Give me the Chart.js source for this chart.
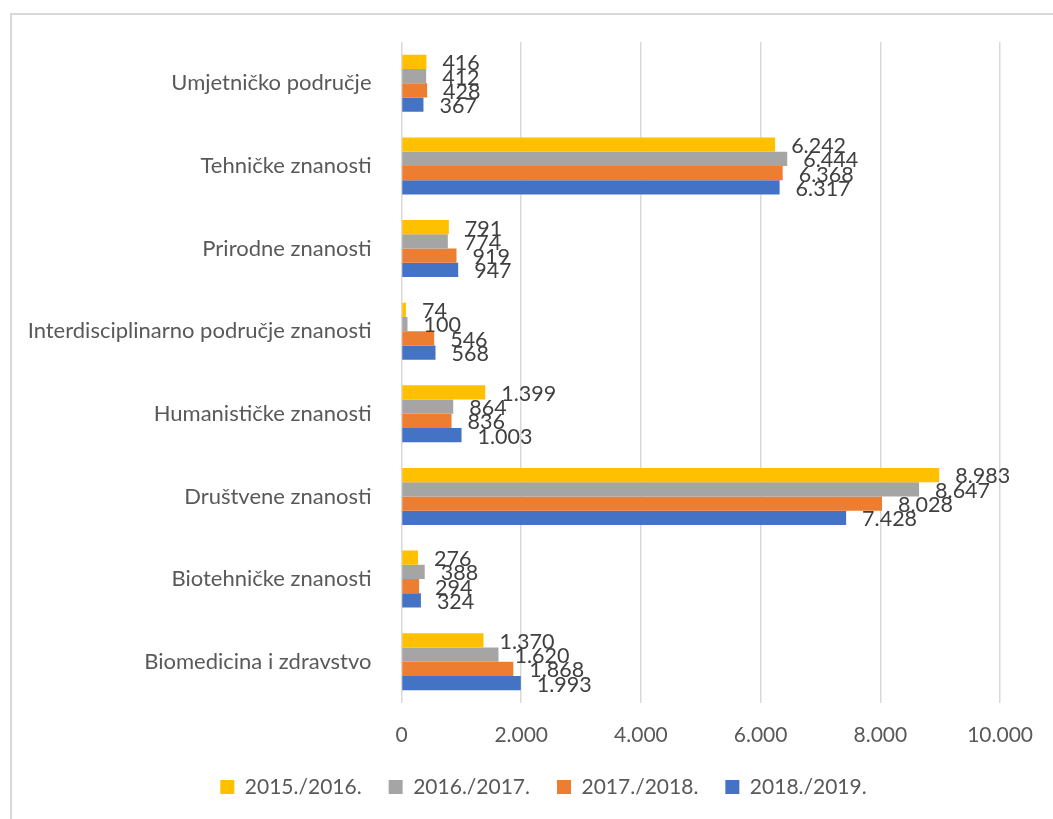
<!DOCTYPE html>
<html>
<head>
<meta charset="utf-8">
<script src="https://cdn.jsdelivr.net/npm/chart.js@4.4.1/dist/chart.umd.min.js"></script>
<style>
  html, body { margin: 0; padding: 0; background: #ffffff; overflow: hidden; }
  #frame { position: absolute; left: 10px; top: 13px; width: 1100px; height: 900px; border: 2px solid #d9d9d9; box-sizing: border-box; }
  #wrap { position: absolute; left: 0; top: 0; width: 1053px; height: 819px; }
</style>
</head>
<body>
<div id="frame"></div>
<div id="wrap"><canvas id="c" width="1053" height="819"></canvas></div>
<script>
const categories = [
  'Umjetničko područje',
  'Tehničke znanosti',
  'Prirodne znanosti',
  'Interdisciplinarno područje znanosti',
  'Humanističke znanosti',
  'Društvene znanosti',
  'Biotehničke znanosti',
  'Biomedicina i zdravstvo'
];
const seriesNames = ['2015./2016.', '2016./2017.', '2017./2018.', '2018./2019.'];
const values2015 = [416, 6242, 791, 74, 1399, 8983, 276, 1370];
const values2016 = [412, 6444, 774, 100, 864, 8647, 388, 1620];
const values2017 = [428, 6368, 919, 546, 836, 8028, 294, 1868];
const values2018 = [367, 6317, 947, 568, 1003, 7428, 324, 1993];
const xTicks = [0, 2000, 4000, 6000, 8000, 10000];
const colors = ['#FFC000', '#A5A5A5', '#ED7D31', '#4472C4'];

const seriesValues = [values2015, values2016, values2017, values2018];
const fmt = v => String(v).replace(/\B(?=(\d{3})+(?!\d))/g, '.');
const FONT = 'Lato, "Open Sans", sans-serif';

const dataLabels = {
  id: 'dataLabels',
  afterDatasetsDraw(chart) {
    const ctx = chart.ctx;
    ctx.save();
    ctx.font = '21.5px ' + FONT;
    ctx.fillStyle = '#404040';
    ctx.textAlign = 'left';
    ctx.textBaseline = 'middle';
    chart.data.datasets.forEach((ds, di) => {
      const meta = chart.getDatasetMeta(di);
      meta.data.forEach((bar, i) => {
        ctx.fillText(fmt(ds.data[i]), bar.x + 16, bar.y + 1.5);
      });
    });
    ctx.restore();
  }
};

const legendShift = {
  id: 'legendShift',
  afterLayout(chart) {
    const lg = chart.legend;
    const dx = 42, dy = 3;
    lg.left += dx; lg.right += dx; lg.top += dy; lg.bottom += dy;
  }
};

new Chart(document.getElementById('c'), {
  type: 'bar',
  data: {
    labels: categories,
    datasets: seriesNames.map((name, i) => ({
      label: name,
      data: seriesValues[i],
      backgroundColor: colors[i],
      borderWidth: 0,
      categoryPercentage: 0.69,
      barPercentage: 1.0
    }))
  },
  options: {
    indexAxis: 'y',
    responsive: false,
    animation: false,
    layout: { padding: { left: 0, right: 50, top: 42, bottom: 14.5 } },
    scales: {
      x: {
        min: 0, max: 10000,
        afterBuildTicks(scale) { scale.ticks = xTicks.map(v => ({ value: v })); },
        ticks: {
          callback: v => fmt(v),
          color: '#595959',
          font: { family: FONT, size: 21 },
          padding: 20
        },
        grid: { color: '#d9d9d9', lineWidth: 1.5, drawTicks: false },
        border: { display: false },
        afterFit(scale) { scale.height = 43.5; }
      },
      y: {
        ticks: {
          color: '#595959',
          font: { family: FONT, size: 22 },
          padding: 22
        },
        grid: { display: false },
        border: { display: false },
        afterFit(scale) { scale.width = 401.5; }
      }
    },
    plugins: {
      legend: {
        position: 'bottom',
        labels: {
          boxWidth: 14,
          boxHeight: 14,
          padding: 27,
          color: '#595959',
          font: { family: FONT, size: 21 }
        }
      },
      tooltip: { enabled: false }
    }
  },
  plugins: [dataLabels, legendShift]
});
</script>
</body>
</html>
